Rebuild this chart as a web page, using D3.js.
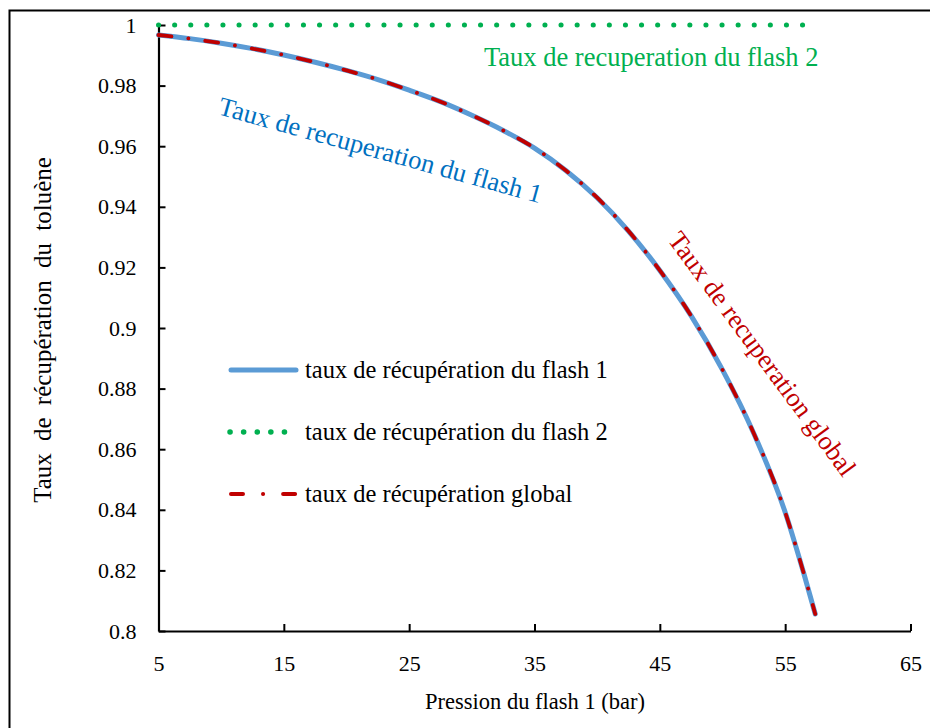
<!DOCTYPE html>
<html><head><meta charset="utf-8">
<script src="https://cdn.jsdelivr.net/npm/d3@7"></script>
<style>body{margin:0;background:#fff}svg text{font-family:"Liberation Serif","DejaVu Serif",serif !important}</style>
</head><body>
<svg id="c" width="930" height="728"></svg>
<script>
const pressure = [5, 7.5, 10, 12.5, 15, 17.5, 20, 22.5, 25, 27.5, 30, 32.5, 35, 37.5, 40, 42.5, 45, 47.5, 50, 52.5, 55, 56.5, 57.4];
const flash1 = [0.9967, 0.9955, 0.9940, 0.9922, 0.9901, 0.9877, 0.9850, 0.9820, 0.9785, 0.9747, 0.9702, 0.9652, 0.9594, 0.9520, 0.9430, 0.9320, 0.9190, 0.9040, 0.8862, 0.8652, 0.8392, 0.8188, 0.8056];
const flash2 = [1, 1, 1, 1, 1, 1, 1, 1, 1, 1, 1, 1, 1, 1, 1, 1, 1, 1, 1, 1, 1, 1, 1];
const globalRate = [0.9967, 0.9955, 0.9940, 0.9922, 0.9901, 0.9877, 0.9850, 0.9820, 0.9785, 0.9747, 0.9702, 0.9652, 0.9594, 0.9520, 0.9430, 0.9320, 0.9190, 0.9040, 0.8862, 0.8652, 0.8392, 0.8188, 0.8056];
const xTicks = [5, 15, 25, 35, 45, 55, 65];
const yTicks = [0.8, 0.82, 0.84, 0.86, 0.88, 0.9, 0.92, 0.94, 0.96, 0.98, 1];
const legendLabels = ["taux de récupération du flash 1", "taux de récupération du flash 2", "taux de récupération global"];

const FONT = "'Liberation Serif', 'DejaVu Serif', serif";
const svg = d3.select("#c").attr("font-family", FONT);
svg.append("rect").attr("x", 9.5).attr("y", 10.5).attr("width", 940).attr("height", 740)
  .attr("fill", "none").attr("stroke", "#000").attr("stroke-width", 2);

const L = 158.5, R = 910.5, T = 25, B = 631;
const x = d3.scaleLinear().domain([5, 65]).range([L, R]);
const y = d3.scaleLinear().domain([0.8, 1]).range([B, T]);

const xAxis = svg.append("g").attr("transform", `translate(0,${B})`)
  .call(d3.axisBottom(x).tickValues(xTicks).tickSize(-7).tickSizeOuter(0).tickPadding(24).tickFormat(d3.format("d")));
const yAxis = svg.append("g").attr("transform", `translate(${L},0)`)
  .call(d3.axisLeft(y).tickValues(yTicks).tickSize(-7).tickSizeOuter(0).tickPadding(22).tickFormat(d => String(+d.toFixed(2))));
[xAxis, yAxis].forEach(a => {
  a.attr("font-family", FONT).attr("font-size", 22);
  a.select(".domain").attr("stroke", "#000").attr("stroke-width", 2.2);
  a.selectAll(".tick line").attr("stroke", "#000").attr("stroke-width", 2);
  a.selectAll(".tick text").attr("fill", "#000");
});
xAxis.selectAll(".tick text").attr("dy", "0.71em");

const line = d3.line().x((d, i) => x(pressure[i])).y(d => y(d)).curve(d3.curveMonotoneX);

svg.append("path").datum(flash2).attr("d", line).attr("fill", "none")
  .attr("stroke", "#00B050").attr("stroke-width", 5).attr("stroke-linecap", "round")
  .attr("stroke-dasharray", "0.1,16");
svg.append("path").datum(flash1).attr("d", line).attr("fill", "none")
  .attr("stroke", "#5B9BD5").attr("stroke-width", 5).attr("stroke-linecap", "round");
svg.append("path").datum(globalRate).attr("d", line).attr("fill", "none")
  .attr("stroke", "#C00000").attr("stroke-width", 3.8).attr("stroke-linecap", "round")
  .attr("stroke-dasharray", "13,17,0.1,17");

const lg = svg.append("g");
const styles = [
  {c: "#5B9BD5", w: 5, da: null},
  {c: "#00B050", w: 5.5, da: "0.1,13.5"},
  {c: "#C00000", w: 4, da: "12,20,0.1,20"}
];
legendLabels.forEach((t, i) => {
  const yy = 370 + i * 62;
  lg.append("line").attr("x1", i === 1 ? 230 : 231).attr("x2", i === 1 ? 298 : 296).attr("y1", yy).attr("y2", yy)
    .attr("stroke", styles[i].c).attr("stroke-width", styles[i].w).attr("stroke-linecap", "round")
    .attr("stroke-dasharray", styles[i].da);
  lg.append("text").attr("x", 305).attr("y", yy + 8).text(t).attr("font-size", 24.5).attr("fill", "#000");
});

svg.append("text").attr("x", 484).attr("y", 66).text("Taux de recuperation du flash 2")
  .attr("fill", "#00B050").attr("font-size", 26.5);
svg.append("text").attr("transform", "translate(217,114) rotate(15.5)").text("Taux de recuperation du flash 1")
  .attr("fill", "#0070C0").attr("font-size", 26.5);
svg.append("text").attr("transform", "translate(667,240) rotate(53.5)").text("Taux de recuperation global")
  .attr("fill", "#C00000").attr("font-size", 26.5);

svg.append("text").attr("x", 535).attr("y", 709).attr("text-anchor", "middle")
  .text("Pression du flash 1 (bar)").attr("font-size", 22.5);
svg.append("text").attr("transform", "translate(51,330) rotate(-90)").attr("text-anchor", "middle")
  .attr("word-spacing", 6).style("word-spacing", "6px").text("Taux de récupération du toluène").attr("font-size", 25);
</script>
</body></html>
